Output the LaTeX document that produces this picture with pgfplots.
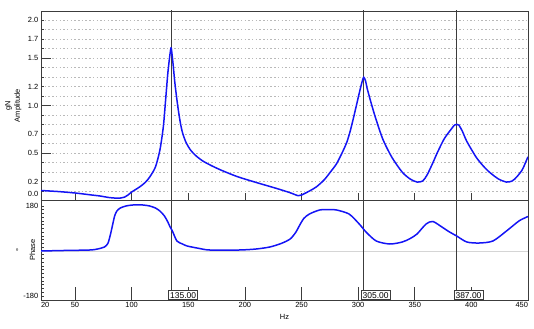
\documentclass[border=0pt]{standalone}
\usepackage{pgfplots}
\pgfplotsset{compat=1.18}
\usepackage{fontspec}
\setmainfont{Liberation Sans}
\definecolor{curve}{RGB}{20,20,245}
\definecolor{frame}{RGB}{60,60,60}
\definecolor{gridc}{RGB}{185,185,185}

\pgfplotstableread{
hz amp
20 0.006
35 -0.006
50 -0.023
65 -0.047
72 -0.058
80 -0.076
85 -0.082
90 -0.082
94 -0.070
97 -0.045
100 -0.012
107 0.047
112 0.100
116 0.164
121 0.28
125 0.48
128 0.75
130 1.06
132 1.38
134 1.61
135 1.67
136.5 1.50
138 1.29
139.5 1.12
141 0.97
143 0.80
145 0.68
148 0.57
152 0.48
157 0.41
163 0.35
170 0.30
178 0.25
193 0.17
210 0.10
228 0.03
240 -0.02
247 -0.055
250 -0.047
257 0.000
263 0.047
270 0.13
276 0.23
281 0.32
286 0.45
290 0.57
293 0.70
296 0.86
299 1.03
302 1.20
304 1.30
305 1.33
306.5 1.29
308 1.20
310 1.10
313 0.96
316 0.83
322 0.60
330 0.39
339 0.22
346 0.14
352 0.105
357 0.117
361 0.19
366 0.33
370 0.45
376 0.61
382 0.72
385 0.77
387 0.78
389 0.77
392 0.70
396 0.58
404 0.40
410 0.30
416 0.22
424 0.14
431 0.105
436 0.117
440 0.164
445 0.25
449 0.37
450 0.40
}\amptable

\pgfplotstableread{
hz ph
20 0
40 2
63 4
70 8
76 16
79 30
81 60
83 100
85 140
87 160
90 172
95 180
101 184
110 184
116 180
121 172
125 160
129 140
132 116
134 96
136 80
140 40
145 28
149 20
160 10
169 4
195 4
210 8
222 16
232 30
240 48
245 75
248 100
252 130
257 148
266 164
275 166
281 164
292 148
301 108
307 76
316 40
328 28
339 36
346 50
352 68
360 108
366 118
374 96
380 78
387 60
396 36
407 32
419 40
431 80
442 120
449 136
450 138
}\phtable

\begin{document}
\fontsize{7.5}{9}\selectfont
\begin{tikzpicture}
\useasboundingbox (0bp,0bp) rectangle (534bp,329bp);
\pgfplotsset{
  myax/.style={
    scale only axis, width=487bp,
    xmin=20, xmax=450,
    axis line style={frame, line width=0.8bp},
    tick style={frame, line width=0.7bp},
    tick align=inside,
    xtick pos=bottom, ytick pos=left,
    major tick length=0bp,
    minor tick length=3bp,
    tick label style={font=\fontsize{7.5}{9}\selectfont},
    label style={font=\fontsize{7.5}{9}\selectfont},
    /pgf/number format/assume math mode=true,
    clip=true,
  },
}
\begin{axis}[myax,
  at={(41bp,129bp)}, anchor=south west, height=189bp,
  ymin=-0.105, ymax=2.105,
  xtick={20,450}, xticklabels={},
  extra x ticks={50,100,150,200,250,300,350,400},
  extra x tick labels={},
  extra x tick style={major tick length=7bp},
  ytick={-0.03,0.1111,0.4444,0.6667,1,1.2222,1.5556,1.7778,2},
  yticklabels={0.0,0.2,0.5,0.7,1.0,1.2,1.5,1.7,2.0},
  minor ytick={0,0.1111,0.2222,0.3333,0.4444,0.5556,0.6667,0.7778,0.8889,1,1.1111,1.2222,1.3333,1.4444,1.5556,1.6667,1.7778,1.8889,2},
  yminorgrids=true,
  minor grid style={gridc, line width=0.6bp, dash pattern=on 1.5bp off 2.2bp},
  extra y ticks={0.4444,1,1.5556},
  extra y tick labels={},
  extra y tick style={major tick length=10bp},
  ylabel={gN\\Amplitude},
  ylabel style={align=center, at={(axis description cs:0,0.5)}, anchor=south, yshift=17bp, font=\fontsize{7.5}{9.5}\selectfont},
]
\addplot[frame, line width=0.8bp] coordinates {(135,-0.2) (135,2.2)};
\addplot[frame, line width=0.8bp] coordinates {(305,-0.2) (305,2.2)};
\addplot[frame, line width=0.8bp] coordinates {(387,-0.2) (387,2.2)};
\addplot[curve, line width=1.5bp, smooth, tension=0.45] table[x=hz, y=amp] {\amptable};
\end{axis}

\begin{axis}[myax,
  at={(41bp,29bp)}, anchor=south west, height=100bp,
  ymin=-196, ymax=204,
  xtick={20,50,100,150,200,250,300,350,400,450},
  xticklabels={\makebox[0pt][l]{20},50,100,150,200,250,300,350,400,\makebox[0pt][r]{450}},
  extra x ticks={50,100,150,200,250,300,350,400},
  extra x tick labels={},
  extra x tick style={major tick length=13bp},
  ytick={-180,180},
  yticklabels={-180,180},
  minor ytick={-180,-165,...,180},
  xlabel={Hz},
  xlabel style={yshift=-1bp},
  ylabel={\textdegree\\[5bp]Phase},
  ylabel style={align=center, at={(axis description cs:0,0.5)}, anchor=south, yshift=3bp, font=\fontsize{7.5}{9}\selectfont},
]
\addplot[gridc!60, line width=0.7bp] coordinates {(20,0) (450,0)};
\addplot[frame, line width=0.8bp] coordinates {(135,-200) (135,210)};
\addplot[frame, line width=0.8bp] coordinates {(305,-200) (305,210)};
\addplot[frame, line width=0.8bp] coordinates {(387,-200) (387,210)};
\addplot[curve, line width=1.5bp, smooth, tension=0.45] table[x=hz, y=ph] {\phtable};
\node[draw=frame, fill=white, line width=0.6bp, anchor=south west, inner sep=1.6bp, xshift=-3bp, font=\fontsize{8.5}{9.5}\selectfont] at (axis cs:135,-196) {135.00};
\node[draw=frame, fill=white, line width=0.6bp, anchor=south west, inner sep=1.6bp, xshift=-3bp, font=\fontsize{8.5}{9.5}\selectfont] at (axis cs:305,-196) {305.00};
\node[draw=frame, fill=white, line width=0.6bp, anchor=south west, inner sep=1.6bp, xshift=-3bp, font=\fontsize{8.5}{9.5}\selectfont] at (axis cs:387,-196) {387.00};
\end{axis}
\end{tikzpicture}
\end{document}
